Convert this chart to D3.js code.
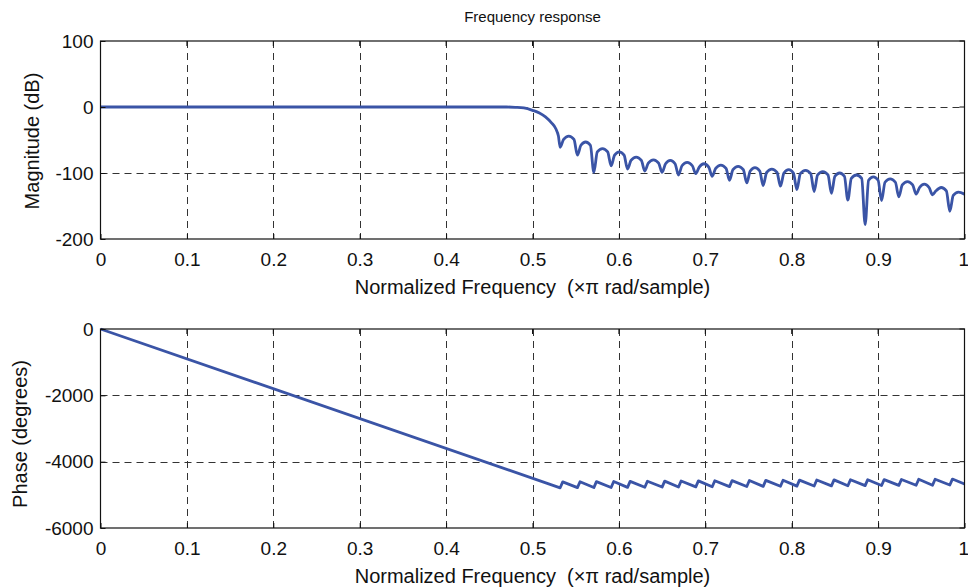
<!DOCTYPE html>
<html>
<head>
<meta charset="utf-8">
<script src="https://cdn.jsdelivr.net/npm/d3@7"></script>
<style>
  body { margin: 0; background: #fff; }
  text { font-family: "Liberation Sans", Arial, sans-serif; fill: #111; white-space: pre; }
</style>
</head>
<body>
<div id="chart"></div>
<script>
var width = 968;
var height = 588;

var freqTicks = [0, 0.1, 0.2, 0.3, 0.4, 0.5, 0.6, 0.7, 0.8, 0.9, 1];
var freqTickLabels = ['0', '0.1', '0.2', '0.3', '0.4', '0.5', '0.6', '0.7', '0.8', '0.9', '1'];
var magTicks = [100, 0, -100, -200];
var phaseTicks = [0, -2000, -4000, -6000];

// magnitude response: [normalized freq, dB]
var magPoints = [
  [0, 0], [0.1, 0], [0.2, 0], [0.3, 0], [0.4, 0], [0.47, 0], [0.48, -0.5], [0.49, -1.5],
  [0.50, -5], [0.508, -9], [0.515, -15], [0.522, -24], [0.527, -33], [0.530, -44],
  [0.532, -61], [0.536, -49], [0.542, -44], [0.548, -49],
  [0.552, -73], [0.556, -58], [0.5615, -53], [0.567, -58],
  [0.571, -99], [0.575, -68], [0.581, -63], [0.587, -68],
  [0.591, -89], [0.595, -73], [0.6005, -68], [0.606, -73],
  [0.610, -94], [0.614, -81], [0.620, -76], [0.626, -81],
  [0.630, -97], [0.634, -85], [0.640, -80], [0.646, -85],
  [0.650, -99], [0.654, -86], [0.6595, -81], [0.665, -86],
  [0.669, -103], [0.673, -89], [0.679, -84], [0.685, -89],
  [0.689, -101], [0.693, -91], [0.6985, -86], [0.704, -91],
  [0.708, -105], [0.712, -93], [0.718, -88], [0.724, -93],
  [0.728, -111], [0.732, -95], [0.738, -90], [0.744, -95],
  [0.748, -115], [0.752, -97], [0.7575, -92], [0.763, -97],
  [0.767, -119], [0.771, -99], [0.777, -94], [0.783, -99],
  [0.787, -120], [0.791, -100], [0.7965, -95], [0.802, -100],
  [0.806, -125], [0.810, -101], [0.816, -96], [0.822, -101],
  [0.826, -128], [0.830, -103], [0.836, -98], [0.842, -103],
  [0.846, -131], [0.850, -105], [0.8555, -100], [0.861, -105],
  [0.865, -141], [0.869, -108], [0.875, -103], [0.881, -108],
  [0.885, -178], [0.889, -111], [0.8945, -106], [0.900, -111],
  [0.904, -142], [0.908, -114], [0.914, -109], [0.920, -114],
  [0.924, -136], [0.928, -118], [0.934, -113], [0.940, -118],
  [0.944, -132], [0.948, -122], [0.9535, -117], [0.959, -122],
  [0.963, -133], [0.967, -127], [0.973, -122], [0.979, -127],
  [0.983, -158], [0.987, -134], [0.993, -129], [1.0, -132]
];

// phase response: [normalized freq, degrees]
var phasePoints = [
  [0, 0], [0.532, -4788], [0.535, -4608],
  [0.552, -4784], [0.555, -4604],
  [0.571, -4781], [0.574, -4601],
  [0.591, -4777], [0.594, -4597],
  [0.610, -4774], [0.613, -4594],
  [0.630, -4770], [0.633, -4590],
  [0.650, -4766], [0.653, -4586],
  [0.669, -4763], [0.672, -4583],
  [0.689, -4759], [0.692, -4579],
  [0.708, -4756], [0.711, -4576],
  [0.728, -4752], [0.731, -4572],
  [0.748, -4748], [0.751, -4568],
  [0.767, -4745], [0.770, -4565],
  [0.787, -4741], [0.790, -4561],
  [0.806, -4738], [0.809, -4558],
  [0.826, -4734], [0.829, -4554],
  [0.846, -4730], [0.849, -4550],
  [0.865, -4727], [0.868, -4547],
  [0.885, -4723], [0.888, -4543],
  [0.904, -4720], [0.907, -4540],
  [0.924, -4716], [0.927, -4536],
  [0.944, -4712], [0.947, -4532],
  [0.963, -4709], [0.966, -4529],
  [0.983, -4705], [0.986, -4525],
  [1.0, -4675]
];

var lineColor = '#3a54a6';
var left = 100.5;
var right = 964.5;
var fontStack = '"Liberation Sans", Arial, sans-serif';

var svg = d3.select('#chart')
  .append('svg')
  .attr('width', width)
  .attr('height', height);

var x = d3.scaleLinear().domain([0, 1]).range([left, right]);

function drawPanel(opts) {
  var y = d3.scaleLinear().domain(opts.domain).range([opts.bottom, opts.top]);
  var g = svg.append('g');

  // dashed grid
  g.selectAll('.vgrid')
    .data(freqTicks.slice(1, -1))
    .enter().append('line')
    .attr('x1', function(d) { return Math.round(x(d)) + 0.5; })
    .attr('x2', function(d) { return Math.round(x(d)) + 0.5; })
    .attr('y1', opts.top)
    .attr('y2', opts.bottom)
    .style('stroke', '#333')
    .style('stroke-width', 1)
    .style('stroke-dasharray', '7,5');

  g.selectAll('.hgrid')
    .data(opts.ticks.slice(1, -1))
    .enter().append('line')
    .attr('x1', left)
    .attr('x2', right)
    .attr('y1', function(d) { return Math.round(y(d)) + 0.5; })
    .attr('y2', function(d) { return Math.round(y(d)) + 0.5; })
    .style('stroke', '#333')
    .style('stroke-width', 1)
    .style('stroke-dasharray', '7,5');

  // data line
  var line = d3.line()
    .x(function(d) { return x(d[0]); })
    .y(function(d) { return y(d[1]); })
    .curve(opts.curve);

  g.append('path')
    .datum(opts.points)
    .attr('d', line)
    .style('fill', 'none')
    .style('stroke', lineColor)
    .style('stroke-width', 2.8)
    .style('stroke-linejoin', 'round');

  // box
  g.append('rect')
    .attr('x', left)
    .attr('y', opts.top)
    .attr('width', right - left)
    .attr('height', opts.bottom - opts.top)
    .style('fill', 'none')
    .style('stroke', '#111')
    .style('stroke-width', 1.2);

  // axes with inward ticks
  var xAxis = d3.axisBottom(x)
    .tickValues(freqTicks)
    .tickFormat(function(d, i) { return freqTickLabels[i]; })
    .tickSizeInner(-5)
    .tickSizeOuter(0)
    .tickPadding(14);
  var xg = g.append('g')
    .attr('transform', 'translate(0,' + opts.bottom + ')')
    .call(xAxis);

  var yAxis = d3.axisLeft(y)
    .tickValues(opts.ticks)
    .tickFormat(function(d) { return String(d); })
    .tickSizeInner(-5)
    .tickSizeOuter(0)
    .tickPadding(7);
  var yg = g.append('g')
    .attr('transform', 'translate(' + left + ',0)')
    .call(yAxis);

  [xg, yg].forEach(function(a) {
    a.select('.domain').remove();
    a.selectAll('line').style('stroke', '#111');
    a.selectAll('text')
      .style('font-family', fontStack)
      .style('font-size', '19px')
      .style('fill', '#111');
  });
  // keep the last x label inside the page
  xg.selectAll('.tick text')
    .filter(function(d) { return d === 1; })
    .attr('text-anchor', 'end')
    .attr('dx', '4');

  // top and right ticks
  g.selectAll('.tt')
    .data(freqTicks)
    .enter().append('line')
    .attr('x1', function(d) { return x(d); })
    .attr('x2', function(d) { return x(d); })
    .attr('y1', opts.top)
    .attr('y2', opts.top + 5)
    .style('stroke', '#111');
  g.selectAll('.rt')
    .data(opts.ticks)
    .enter().append('line')
    .attr('x1', right)
    .attr('x2', right - 5)
    .attr('y1', function(d) { return y(d); })
    .attr('y2', function(d) { return y(d); })
    .style('stroke', '#111');

  // labels
  g.append('text')
    .attr('x', (left + right) / 2)
    .attr('y', opts.bottom + 55)
    .attr('text-anchor', 'middle')
    .style('font-size', '20px')
    .text('Normalized Frequency  (\u00d7\u03c0 rad/sample)');

  g.append('text')
    .attr('transform', 'translate(' + opts.ylabelX + ',' + opts.ylabelY + ') rotate(-90)')
    .attr('text-anchor', 'middle')
    .style('font-size', '20px')
    .text(opts.ylabel);
}

drawPanel({
  top: 41,
  bottom: 239,
  domain: [-200, 100],
  ticks: magTicks,
  points: magPoints,
  curve: d3.curveMonotoneX,
  ylabel: 'Magnitude (dB)',
  ylabelX: 39,
  ylabelY: 141
});

drawPanel({
  top: 329,
  bottom: 528,
  domain: [-6000, 0],
  ticks: phaseTicks,
  points: phasePoints,
  curve: d3.curveLinear,
  ylabel: 'Phase (degrees)',
  ylabelX: 27,
  ylabelY: 434
});

svg.append('text')
  .attr('x', (left + right) / 2)
  .attr('y', 22)
  .attr('text-anchor', 'middle')
  .style('font-size', '15px')
  .text('Frequency response');
</script>
</body>
</html>
